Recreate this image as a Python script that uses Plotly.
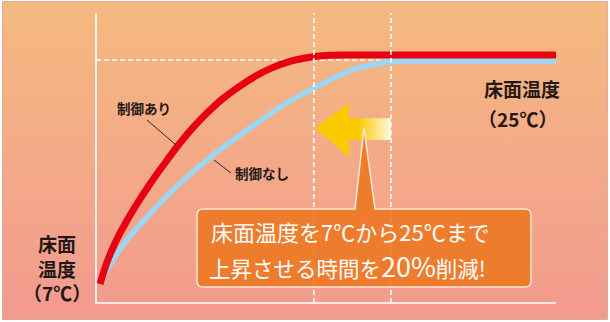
import plotly.graph_objects as go

# ---------------- data (time in min, floor temperature in °C) ----------------
time_ctrl = [0, 1.10, 2.19, 3.73, 5.48, 7.68, 10.96, 14.25, 17.54, 20.83, 23.46, 26.97,
             30.70, 34.43, 37.94, 41.67, 44.96, 47.59, 50.44, 53.73, 100]
temp_ctrl = [7.0, 8.29, 9.37, 10.62, 11.82, 13.19, 15.04, 16.72, 18.33, 19.74, 20.74, 21.91,
             22.91, 23.77, 24.41, 24.89, 25.16, 25.31, 25.38, 25.40, 25.40]
time_noctrl = [0, 1.75, 3.95, 6.58, 9.87, 13.16, 16.89, 20.18, 23.46, 26.97, 30.70, 34.43,
               37.94, 41.67, 45.39, 48.68, 52.19, 55.92, 59.43, 62.06, 63.82, 65.79, 100]
temp_noctrl = [7.0, 8.29, 9.53, 10.86, 12.22, 13.51, 14.88, 15.96, 16.96, 17.97, 18.97, 19.94,
               20.82, 21.71, 22.43, 23.07, 23.71, 24.28, 24.60, 24.80, 24.88, 24.92, 24.92]
reach_times = [46.9, 63.8]          # time each curve reaches the target
target_temp = 25
series_names = ["制御あり", "制御なし"]

# ---------------- layout helpers (pixel -> axis / paper) ----------------
W, H = 610, 322
PX_T, X0 = 4.56, 100      # px per minute, px of t=0
PX_C, Y7 = 12.444, 284    # px per °C, px of 7°C
def X(px): return (px - X0) / PX_T
def Y(py): return 7 + (Y7 - py) / PX_C
def fx(px): return px / W
def fy(py): return 1 - py / H

fig = go.Figure()

# background panel with vertical gradient
bx = [X(2.5), X(607.5), X(607.5), X(2.5), X(2.5)]
by = [Y(1.5), Y(1.5), Y(319.5), Y(319.5), Y(1.5)]
fig.add_trace(go.Scatter(
    x=bx, y=by, mode="lines", fill="toself",
    line=dict(color="rgba(200,140,125,0.55)", width=1),
    fillgradient=dict(type="vertical",
                      colorscale=[[0, "#F29A8F"], [1, "#F5BA80"]],
                      start=Y(320), stop=Y(1)),
    hoverinfo="skip", showlegend=False))

dash_style = dict(color="white", width=1.6, dash="5px,3px")
axis_left = X(96)
axis_bottom = Y(303)
axis_top = Y(13)

# horizontal target line (25°C)
fig.add_trace(go.Scatter(x=[axis_left, reach_times[1]], y=[target_temp, target_temp],
                         mode="lines", line=dash_style, hoverinfo="skip", showlegend=False))

# curves
fig.add_trace(go.Scatter(x=time_noctrl, y=temp_noctrl, mode="lines", name=series_names[1],
                         line=dict(color="#9DD6F2", width=5.5, shape="spline", smoothing=0.6),
                         hoverinfo="skip", showlegend=False))
fig.add_trace(go.Scatter(x=time_ctrl, y=temp_ctrl, mode="lines", name=series_names[0],
                         line=dict(color="#E60012", width=7, shape="spline", smoothing=0.6),
                         hoverinfo="skip", showlegend=False))

# vertical dashed lines at reach times
for t in reach_times:
    fig.add_trace(go.Scatter(x=[t, t], y=[axis_bottom, axis_top], mode="lines",
                             line=dash_style, hoverinfo="skip", showlegend=False))

# axes lines
fig.add_trace(go.Scatter(x=[axis_left, axis_left, 100], y=[axis_top, axis_bottom, axis_bottom],
                         mode="lines", line=dict(color="white", width=1.6),
                         hoverinfo="skip", showlegend=False))

# yellow arrow (gradient shaft)
ax = [315, 349, 349, 391, 391, 349, 349, 315]
ay = [128, 103, 118.3, 118.3, 140, 140, 157, 128]
fig.add_trace(go.Scatter(
    x=[X(v) for v in ax], y=[Y(v) for v in ay], mode="lines", fill="toself",
    line=dict(width=0, color="rgba(0,0,0,0)"),
    fillgradient=dict(type="horizontal",
                      colorscale=[[0, "#FBC900"], [1, "#FFFBE6"]],
                      start=X(358), stop=X(392)),
    hoverinfo="skip", showlegend=False))

# callout box with pointer
L, T, R, B, r = 197, 209, 531, 287, 6
def P(px, py): return f"{fx(px):.5f},{fy(py):.5f}"
path = (f"M {P(L+r,T)} L {P(355,T)} L {P(364,128)} L {P(375,T)} L {P(R-r,T)} "
        f"Q {P(R,T)} {P(R,T+r)} L {P(R,B-r)} Q {P(R,B)} {P(R-r,B)} L {P(L+r,B)} "
        f"Q {P(L,B)} {P(L,B-r)} L {P(L,T+r)} Q {P(L,T)} {P(L+r,T)} Z")
shapes = [dict(type="path", xref="paper", yref="paper", path=path,
               fillcolor="rgba(236,120,33,0.9)", line=dict(color="#FCE8D6", width=1.5))]

# leader lines
for (x1, y1, x2, y2) in [(147, 120, 176, 145), (214, 160, 231, 173)]:
    shapes.append(dict(type="line", xref="paper", yref="paper",
                       x0=fx(x1), y0=fy(y1), x1=fx(x2), y1=fy(y2),
                       line=dict(color="#231815", width=0.9)))

FONT = "Noto Sans CJK JP"
dark = "#231815"
ann = []
def text(px, py, s, size, color=dark, anchor="center", weight="bold"):
    ann.append(dict(x=fx(px), y=fy(py), xref="paper", yref="paper", text=s, showarrow=False,
                    xanchor=anchor, yanchor="middle", align=anchor if anchor != "center" else "center",
                    font=dict(family=FONT, size=size, color=color, weight=weight)))

text(143.5, 108, series_names[0], 13.5)
text(261.5, 173, series_names[1], 13.5)
text(522, 88, "床面温度", 19)
text(517, 118, "（25℃）", 19)
text(57, 268, "床面<br>温度<br>（7℃）", 19)
text(209, 230.5, "床面温度を7℃から25℃まで", 22, "white", "left", "normal")
text(207, 265, "上昇させる時間を<span style='font-size:27px'>20%</span>削減!",
     21.5, "white", "left", "normal")

fig.update_layout(
    width=W, height=H, margin=dict(l=0, r=0, t=0, b=0),
    paper_bgcolor="white", plot_bgcolor="rgba(0,0,0,0)",
    xaxis=dict(range=[X(0), X(W)], visible=False, fixedrange=True),
    yaxis=dict(range=[Y(H), Y(0)], visible=False, fixedrange=True),
    shapes=shapes, annotations=ann, hovermode=False, showlegend=False,
)

fig.write_html("out.html", config={"displayModeBar": False})
